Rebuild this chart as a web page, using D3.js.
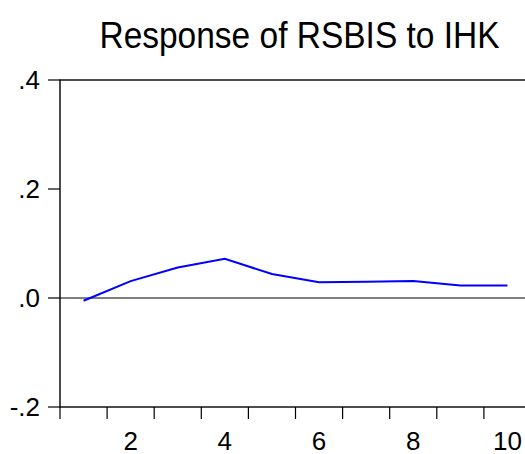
<!DOCTYPE html>
<html>
<head>
<meta charset="utf-8">
<script src="https://cdn.jsdelivr.net/npm/d3@7"></script>
<style>
  body { margin: 0; background: #fff; }
  svg { display: block; font-family: Arial, "Liberation Sans", sans-serif; }
</style>
</head>
<body>
<div id="chart"></div>
<script>
const periods = [1, 2, 3, 4, 5, 6, 7, 8, 9, 10];
const response = [-0.005, 0.031, 0.056, 0.072, 0.044, 0.029, 0.030, 0.031, 0.023, 0.023];
const yTicks = [-0.2, 0, 0.2, 0.4];
const xLabels = [2, 4, 6, 8, 10];
const titleText = 'Response of RSBIS to IHK';

const width = 525, height = 454;
const margin = {top: 80, left: 60, bottom: 47};
const plotRight = 531; // EViews frame runs past the window edge

const svg = d3.select('#chart').append('svg')
    .attr('width', width)
    .attr('height', height);

// band scale: ticks sit on the period boundaries, labels in the middle
const x = d3.scaleBand()
    .domain(periods)
    .range([margin.left, plotRight])
    .paddingInner(0).paddingOuter(0);

const y = d3.scaleLinear()
    .domain([-0.2, 0.4])
    .range([height - margin.bottom, margin.top]);

// EViews style: no leading zero, plain hyphen
const fmt = v => {
    const s = Math.abs(v).toFixed(1).replace('0.', '.');
    return v < 0 ? '-' + s : s;
};

// title, a little taller than plain Arial
svg.append('text')
    .attr('transform', 'translate(299.5,47.5) scale(1,1.12)')
    .attr('text-anchor', 'middle')
    .style('font-size', '33.5px')
    .text(titleText);

// zero line
svg.append('line')
    .attr('x1', margin.left).attr('x2', plotRight)
    .attr('y1', y(0)).attr('y2', y(0))
    .attr('stroke', '#000')
    .attr('stroke-width', 1);

// frame
svg.append('rect')
    .attr('x', margin.left)
    .attr('y', margin.top)
    .attr('width', plotRight - margin.left)
    .attr('height', y(-0.2) - margin.top)
    .attr('fill', 'none')
    .attr('stroke', '#000')
    .attr('stroke-width', 1.4);

// y axis ticks + labels
const yAxis = svg.append('g');
yTicks.forEach(t => {
    yAxis.append('line')
        .attr('x1', margin.left - 12).attr('x2', margin.left)
        .attr('y1', y(t)).attr('y2', y(t))
        .attr('stroke', '#000')
        .attr('stroke-width', 1.2);
    yAxis.append('text')
        .attr('x', 40)
        .attr('y', y(t))
        .attr('dy', '0.36em')
        .attr('text-anchor', 'end')
        .style('font-size', '26px')
        .text(fmt(t));
});

// x axis ticks at band boundaries
const xAxis = svg.append('g');
const bottom = y(-0.2);
periods.forEach(p => {
    xAxis.append('line')
        .attr('x1', x(p)).attr('x2', x(p))
        .attr('y1', bottom).attr('y2', bottom + 12)
        .attr('stroke', '#000')
        .attr('stroke-width', 1.2);
});
xLabels.forEach(p => {
    xAxis.append('text')
        .attr('x', x(p) + x.bandwidth() / 2)
        .attr('y', 449.5)
        .attr('text-anchor', 'middle')
        .style('font-size', '26px')
        .text(p);
});

// response line
const line = d3.line()
    .x((d, i) => x(periods[i]) + x.bandwidth() / 2)
    .y(d => y(d));

svg.append('path')
    .datum(response)
    .attr('d', line)
    .attr('fill', 'none')
    .attr('stroke', '#0000ff')
    .attr('stroke-width', 2);
</script>
</body>
</html>
